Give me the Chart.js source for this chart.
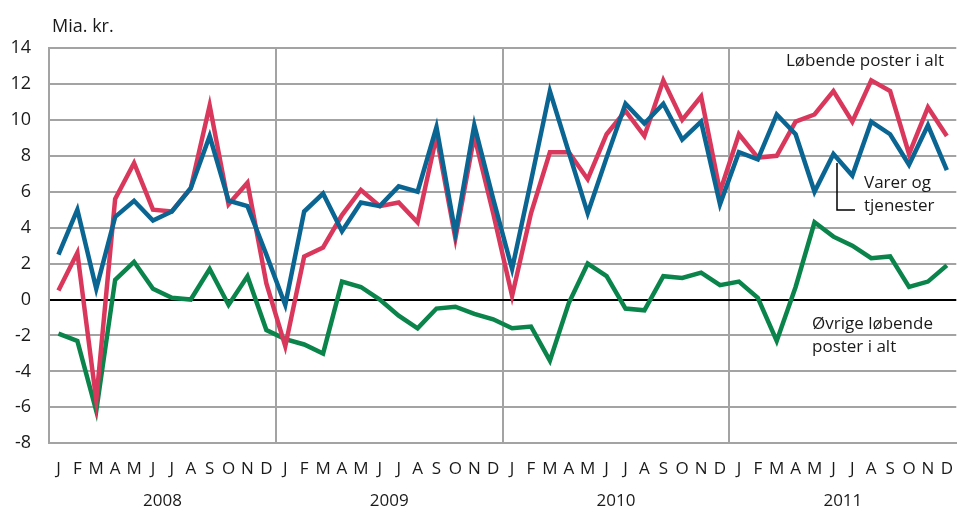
<!DOCTYPE html>
<html>
<head>
<meta charset="utf-8">
<script src="https://cdn.jsdelivr.net/npm/chart.js@4.4.1/dist/chart.umd.min.js"></script>
<style>
  html, body { margin: 0; padding: 0; background: #fff; overflow: hidden; }
  #wrap { position: relative; width: 957px; height: 510px; overflow: hidden; }
</style>
</head>
<body>
<div id="wrap"><canvas id="c" width="969" height="510"></canvas></div>
<script>
const monthLetters = ['J','F','M','A','M','J','J','A','S','O','N','D'];
const years = ['2008','2009','2010','2011'];
const yTicks = [14, 12, 10, 8, 6, 4, 2, 0, -2, -4, -6, -8];

// Løbende poster i alt (red)
const lobendePoster = [
  0.5, 2.6, -5.6, 5.6, 7.6, 5.0, 4.9, 6.2, 10.8, 5.3, 6.5, 0.9,
  -2.6, 2.4, 2.9, 4.7, 6.1, 5.2, 5.4, 4.3, 9.1, 3.4, 9.1, 4.8,
  0.2, 4.8, 8.2, 8.2, 6.7, 9.2, 10.5, 9.1, 12.2, 10.0, 11.3, 6.0,
  9.2, 7.9, 8.0, 9.9, 10.3, 11.6, 9.9, 12.2, 11.6, 8.1, 10.7, 9.1
];
// Varer og tjenester (blue)
const varerTjenester = [
  2.5, 5.0, 0.6, 4.6, 5.5, 4.4, 4.9, 6.2, 9.1, 5.5, 5.2, 2.5,
  -0.3, 4.9, 5.9, 3.8, 5.4, 5.2, 6.3, 6.0, 9.6, 3.7, 9.7, 5.6,
  1.7, 6.6, 11.6, 8.2, 4.8, 7.9, 10.9, 9.8, 10.9, 8.9, 9.9, 5.3,
  8.2, 7.8, 10.3, 9.2, 6.0, 8.1, 6.9, 9.9, 9.2, 7.5, 9.7, 7.2
];
// Øvrige løbende poster i alt (green)
const ovrige = [
  -1.9, -2.3, -6.2, 1.1, 2.1, 0.6, 0.1, 0.0, 1.7, -0.3, 1.3, -1.7,
  -2.2, -2.5, -3.0, 1.0, 0.7, 0.0, -0.9, -1.6, -0.5, -0.4, -0.8, -1.1,
  -1.6, -1.5, -3.4, -0.2, 2.0, 1.3, -0.5, -0.6, 1.3, 1.2, 1.5, 0.8,
  1.0, 0.1, -2.3, 0.7, 4.3, 3.5, 3.0, 2.3, 2.4, 0.7, 1.0, 1.9
];

const labels = [];
years.forEach(() => monthLetters.forEach(m => labels.push(m)));

const FONT = "'Open Sans', 'Noto Sans', sans-serif";
const GRID = '#a3a3a3';
const RED = '#d9385c';
const BLUE = '#0a6592';
const GREEN = '#0a844a';

const textPlugin = {
  id: 'textPlugin',
  afterDatasetsDraw(chart) {
    const ctx = chart.ctx;
    ctx.save();
    ctx.fillStyle = '#1a1a1a';
    ctx.textBaseline = 'alphabetic';
    ctx.textAlign = 'left';
    ctx.font = "18px " + FONT;
    ctx.fillText('Mia. kr.', 52, 32);
    ctx.font = "17px " + FONT;
    ctx.fillText('Løbende poster i alt', 786, 66);
    ctx.fillText('Varer og', 864, 188);
    ctx.fillText('tjenester', 864, 211);
    ctx.fillText('Øvrige løbende', 812, 329);
    ctx.fillText('poster i alt', 812, 352);
    ctx.strokeStyle = '#000';
    ctx.lineWidth = 1.5;
    ctx.beginPath();
    ctx.moveTo(837, 163);
    ctx.lineTo(837, 210);
    ctx.lineTo(855, 210);
    ctx.stroke();
    ctx.restore();
  }
};

new Chart(document.getElementById('c'), {
  type: 'line',
  data: {
    labels: labels,
    datasets: [
      { label: 'Varer og tjenester', data: varerTjenester, borderColor: BLUE, borderWidth: 4.5, pointRadius: 0, tension: 0, order: 1 },
      { label: 'Løbende poster i alt', data: lobendePoster, borderColor: RED, borderWidth: 4.5, pointRadius: 0, tension: 0, order: 2 },
      { label: 'Øvrige løbende poster i alt', data: ovrige, borderColor: GREEN, borderWidth: 4.5, pointRadius: 0, tension: 0, order: 3 }
    ]
  },
  options: {
    responsive: false,
    animation: false,
    events: [],
    layout: { padding: { top: 48, left: 0, right: 0, bottom: 0 } },
    plugins: { legend: { display: false }, tooltip: { enabled: false }, title: { display: false } },
    scales: {
      x: {
        type: 'category',
        offset: true,
        grid: {
          offset: true,
          drawTicks: false,
          lineWidth: 2,
          color: (c) => (c.index % 12 === 0 ? GRID : 'rgba(0,0,0,0)')
        },
        border: { display: true, color: GRID, width: 2 },
        ticks: {
          autoSkip: false, maxRotation: 0, minRotation: 0,
          color: '#1a1a1a', font: { family: FONT, size: 17 }, padding: 16
        },
        afterFit: (s) => { s.height = 36; }
      },
      x2: {
        type: 'category',
        position: 'bottom',
        labels: years,
        offset: true,
        grid: { display: false, drawTicks: false },
        border: { display: false },
        ticks: { color: '#1a1a1a', font: { family: FONT, size: 17 }, padding: 12, maxRotation: 0 },
        afterFit: (s) => { s.height = 30.7; }
      },
      y: {
        min: -8, max: 14,
        afterBuildTicks: (s) => { s.ticks = yTicks.map(v => ({ value: v })); },
        grid: {
          drawTicks: false,
          lineWidth: 2,
          color: (c) => (c.tick && c.tick.value === 0 ? '#000' : GRID)
        },
        border: { display: true, color: GRID, width: 2 },
        ticks: { color: '#1a1a1a', font: { family: FONT, size: 18 }, padding: 18 },
        afterFit: (s) => { s.width = 49; }
      }
    }
  },
  plugins: [textPlugin]
});
</script>
</body>
</html>
